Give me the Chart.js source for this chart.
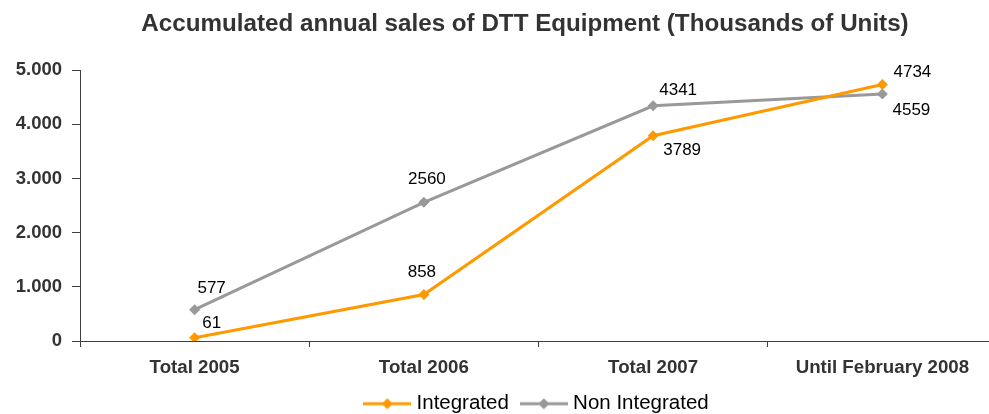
<!DOCTYPE html>
<html>
<head>
<meta charset="utf-8">
<script src="https://cdn.jsdelivr.net/npm/chart.js@4.4.1/dist/chart.umd.min.js"></script>
<style>
  html, body { margin: 0; padding: 0; background: #ffffff; overflow: hidden; }
  #wrap { width: 1050px; height: 424px; }
</style>
</head>
<body>
<div id="wrap"><canvas id="c" width="1050" height="424"></canvas></div>
<script>
// ---- data ----
const categories = ['Total 2005', 'Total 2006', 'Total 2007', 'Until February 2008'];
const integrated = [61, 858, 3789, 4734];
const nonIntegrated = [577, 2560, 4341, 4559];
const yTicks = [0, 1000, 2000, 3000, 4000, 5000];
const seriesNames = ['Integrated', 'Non Integrated'];

// ---- styling (not data) ----
const ORANGE = '#FF9900';
const GREY = '#999999';
const FONT = "'Liberation Sans', Arial, sans-serif";
// label offsets in px relative to each point [dx, dy]
const labelOffsets = [
  [[17, -14], [-2, -22], [29, 15], [30, -12]],
  [[17, -21], [3, -23], [25, -15], [29, 16]]
];

function legendIcon(color) {
  const cv = document.createElement('canvas');
  cv.width = 48; cv.height = 14;
  const g = cv.getContext('2d');
  g.strokeStyle = color; g.lineWidth = 3;
  g.beginPath(); g.moveTo(0, 7); g.lineTo(48, 7); g.stroke();
  g.fillStyle = color;
  g.beginPath(); g.moveTo(24, 1.5); g.lineTo(29.5, 7); g.lineTo(24, 12.5); g.lineTo(18.5, 7); g.closePath(); g.fill();
  return cv;
}
const icons = [legendIcon(ORANGE), legendIcon(GREY)];

const dataLabels = {
  id: 'dataLabels',
  afterDatasetsDraw(chart) {
    const ctx = chart.ctx;
    ctx.save();
    ctx.font = '17px ' + FONT;
    ctx.fillStyle = '#000000';
    ctx.textAlign = 'center';
    ctx.textBaseline = 'middle';
    chart.data.datasets.forEach((ds, i) => {
      const meta = chart.getDatasetMeta(i);
      meta.data.forEach((pt, j) => {
        const off = labelOffsets[i][j];
        ctx.fillText(String(ds.data[j]), pt.x + off[0], pt.y + off[1]);
      });
    });
    ctx.restore();
  }
};

new Chart(document.getElementById('c'), {
  type: 'line',
  data: {
    labels: categories,
    datasets: [
      {
        label: seriesNames[0], data: integrated,
        borderColor: ORANGE, backgroundColor: ORANGE, borderWidth: 3,
        pointStyle: 'rectRot', pointRadius: 5.5, pointBackgroundColor: ORANGE, pointBorderColor: ORANGE, pointBorderWidth: 0,
        tension: 0, yAxisID: 'y'
      },
      {
        label: seriesNames[1], data: nonIntegrated,
        borderColor: GREY, backgroundColor: GREY, borderWidth: 3,
        pointStyle: 'rectRot', pointRadius: 5.5, pointBackgroundColor: GREY, pointBorderColor: GREY, pointBorderWidth: 0,
        tension: 0, yAxisID: 'y'
      }
    ]
  },
  options: {
    responsive: false,
    animation: false,
    devicePixelRatio: 1,
    layout: { padding: 0 },
    plugins: {
      title: {
        display: true,
        text: 'Accumulated annual sales of DTT Equipment (Thousands of Units)',
        color: '#333333',
        font: { family: FONT, size: 24.2, weight: 'bold', lineHeight: 1.2 },
        padding: { top: 10, bottom: 31 }
      },
      legend: {
        display: true,
        position: 'bottom',
        fullSize: false,
        labels: {
          color: '#000000',
          font: { family: FONT, size: 20.5 },
          usePointStyle: true,
          pointStyleWidth: 38,
          padding: 16,
          generateLabels(chart) {
            const items = Chart.defaults.plugins.legend.labels.generateLabels(chart);
            items.forEach((it, i) => { it.pointStyle = icons[i]; });
            return items;
          }
        }
      },
      tooltip: { enabled: false }
    },
    scales: {
      x: {
        type: 'category',
        offset: true,
        grid: { display: true, drawOnChartArea: false, drawTicks: true, tickLength: 6, color: '#404040', offset: true },
        border: { display: true, color: '#404040', width: 1 },
        ticks: { color: '#333333', font: { family: FONT, size: 18.7, weight: 'bold' }, padding: 10, maxRotation: 0, autoSkip: false },
        afterFit(s) { s.height = 36.5; }
      },
      y: {
        type: 'linear',
        position: 'left',
        min: 0, max: 5000,
        afterBuildTicks(s) { s.ticks = yTicks.map(v => ({ value: v })); },
        grid: { display: true, drawOnChartArea: false, drawTicks: true, tickLength: 8, color: '#404040' },
        border: { display: true, color: '#404040', width: 1 },
        ticks: {
          color: '#333333', font: { family: FONT, size: 18.5, weight: 'bold' }, padding: 10,
          callback(v) { return v === 0 ? '0' : (v / 1000) + '.000'; }
        },
        afterFit(s) { s.width = 80; }
      },
      yRight: {
        type: 'linear',
        position: 'right',
        display: true,
        grid: { display: false },
        border: { display: false },
        ticks: { display: false },
        afterFit(s) { s.width = 53; }
      }
    }
  },
  plugins: [dataLabels]
});
</script>
</body>
</html>
